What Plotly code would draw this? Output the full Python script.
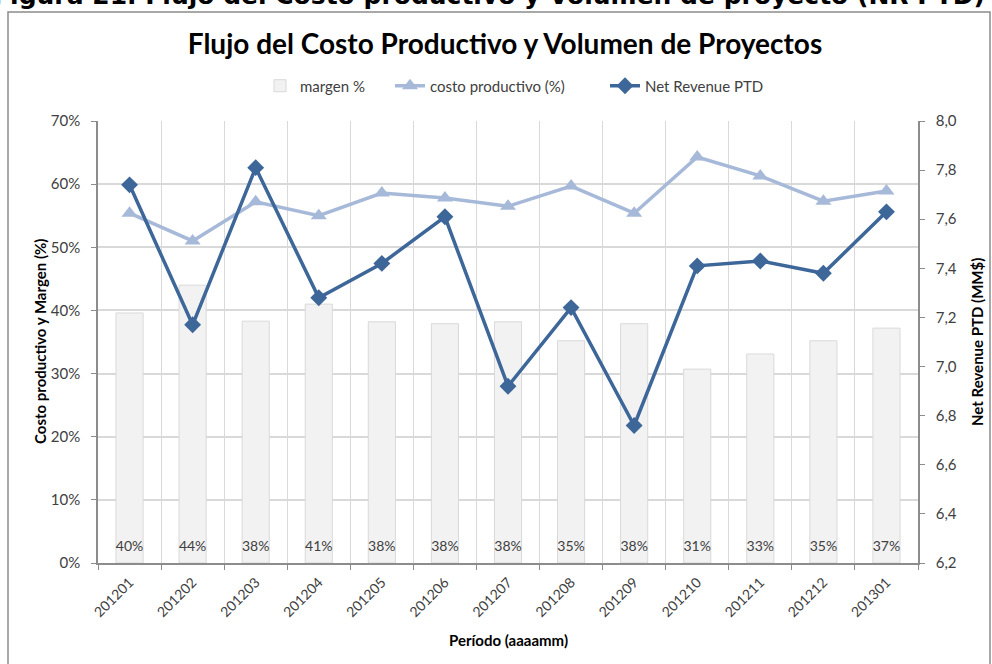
import plotly.graph_objects as go

# Datos del gráfico
periodos = ["201201", "201202", "201203", "201204", "201205", "201206", "201207",
            "201208", "201209", "201210", "201211", "201212", "201301"]
margen = [0.396, 0.440, 0.383, 0.410, 0.382, 0.379, 0.382, 0.352, 0.379, 0.307, 0.331, 0.352, 0.372]
costo_productivo = [0.554, 0.510, 0.572, 0.550, 0.586, 0.578, 0.565, 0.597, 0.554, 0.643, 0.613, 0.573, 0.589]
net_revenue = [7.74, 7.17, 7.81, 7.28, 7.42, 7.61, 6.92, 7.24, 6.76, 7.41, 7.43, 7.38, 7.63]

FONT = "Lato"
TXT = "#404040"
GRID = "#D9D9D9"
AXIS = "#8C8C8C"

# área de trazado en píxeles
L, R, T, B = 98, 918, 121, 563
W, H = 992, 664


def px(xp):
    return (xp - L) / (R - L)


def py(yp):
    return (B - yp) / (B - T)


fig = go.Figure()

fig.add_trace(go.Bar(
    x=periodos, y=margen, name="margen %", legend="legend",
    marker=dict(color="#F2F2F2", line=dict(color="#D9D9D9", width=1)),
    width=0.43,
))

# etiquetas de los porcentajes de margen, al pie de cada barra
fig.add_trace(go.Scatter(
    x=periodos, y=[0.025] * len(periodos), mode="text",
    text=[f"{v:.0%}" for v in margen], showlegend=False, hoverinfo="skip",
    textfont=dict(family=FONT, size=14, color=TXT),
))

fig.add_trace(go.Scatter(
    x=periodos, y=costo_productivo, name="costo productivo (%)", legend="legend2",
    mode="lines+markers",
    line=dict(color="#A7B9D9", width=3.5),
    marker=dict(symbol="triangle-up", size=14, color="#A7B9D9"),
))

fig.add_trace(go.Scatter(
    x=periodos, y=net_revenue, name="Net Revenue PTD", yaxis="y2", legend="legend3",
    mode="lines+markers",
    line=dict(color="#3D6699", width=3.5),
    marker=dict(symbol="diamond", size=13, color="#3D6699"),
))

leg = dict(orientation="h", yanchor="middle", y=py(86), xanchor="left",
           font=dict(family=FONT, size=15, color=TXT), bgcolor="rgba(0,0,0,0)")

fig.update_layout(
    width=W, height=H,
    margin=dict(l=L, r=W - R, t=T, b=H - B, autoexpand=False),
    paper_bgcolor="white", plot_bgcolor="white",
    separators=",.",
    font=dict(family=FONT, size=15, color=TXT),
    showlegend=True,
    legend=dict(leg, x=px(300 - 40)),
    legend2=dict(leg, x=px(430 - 40)),
    legend3=dict(leg, x=px(645 - 40)),
    xaxis=dict(
        type="category", range=[-0.5, len(periodos) - 0.5],
        tickson="boundaries", ticks="outside", ticklen=5, ticklabelstandoff=4,
        tickcolor=AXIS, showline=True, linecolor=AXIS, linewidth=1.5,
        showgrid=True, gridcolor=GRID, gridwidth=1, tickangle=-45, automargin=False,
        tickfont=dict(family=FONT, size=14, color=TXT),
    ),
    yaxis=dict(
        range=[0, 0.7], dtick=0.1, tickformat=".0%",
        ticks="outside", ticklen=5, tickcolor=AXIS, ticklabelstandoff=8,
        showline=True, linecolor=AXIS, linewidth=1.5, automargin=False,
        showgrid=True, gridcolor=GRID, gridwidth=1.5, zeroline=False,
        tickfont=dict(family=FONT, size=15, color=TXT),
    ),
    yaxis2=dict(
        range=[6.2, 8.0], dtick=0.2, tickformat=".1f", overlaying="y", side="right",
        ticks="outside", ticklen=5, tickcolor=AXIS, ticklabelstandoff=8,
        showline=True, linecolor=AXIS, linewidth=1.5, showgrid=False, zeroline=False,
        automargin=False,
        tickfont=dict(family=FONT, size=15, color=TXT),
    ),
    title=dict(text="<b>Flujo del Costo Productivo y Volumen de Proyectos</b>",
               x=px(505), xref="paper", xanchor="center", y=1 - 44 / H, yanchor="middle",
               font=dict(family=FONT, size=28, color="black")),
)

# títulos de ejes
axis_title_font = dict(family=FONT, size=15, color="black")
fig.add_annotation(text="<b>Período (aaaamm)</b>", xref="paper", yref="paper",
                   x=px(508), y=py(640), xanchor="center", yanchor="middle",
                   showarrow=False, font=axis_title_font)
fig.add_annotation(text="<b>Costo productivo y Margen (%)</b>", xref="paper", yref="paper",
                   x=px(40), y=py(342), xanchor="center", yanchor="middle",
                   textangle=-90, showarrow=False, font=axis_title_font)
fig.add_annotation(text="<b>Net Revenue PTD (MM$)</b>", xref="paper", yref="paper",
                   x=px(977), y=py(342), xanchor="center", yanchor="middle",
                   textangle=-90, showarrow=False, font=axis_title_font)

# encabezado de la figura (recortado arriba) y marco del gráfico
fig.add_annotation(
    text="<b>Figura 21. Flujo del Costo productivo y Volumen de proyecto (NR PTD)</b>",
    xref="paper", yref="paper", x=px(987), y=py(12),
    xanchor="right", yanchor="bottom", showarrow=False,
    font=dict(family="DejaVu Sans", size=25, color="black"),
)
fig.add_shape(type="rect", xref="paper", yref="paper",
              x0=px(8), x1=px(990), y0=py(700), y1=py(12),
              line=dict(color="#8C8C8C", width=1.5))

fig.write_html("out.html", config={"displayModeBar": False},
               post_script="document.body.style.margin='0';document.body.style.overflow='hidden';")
